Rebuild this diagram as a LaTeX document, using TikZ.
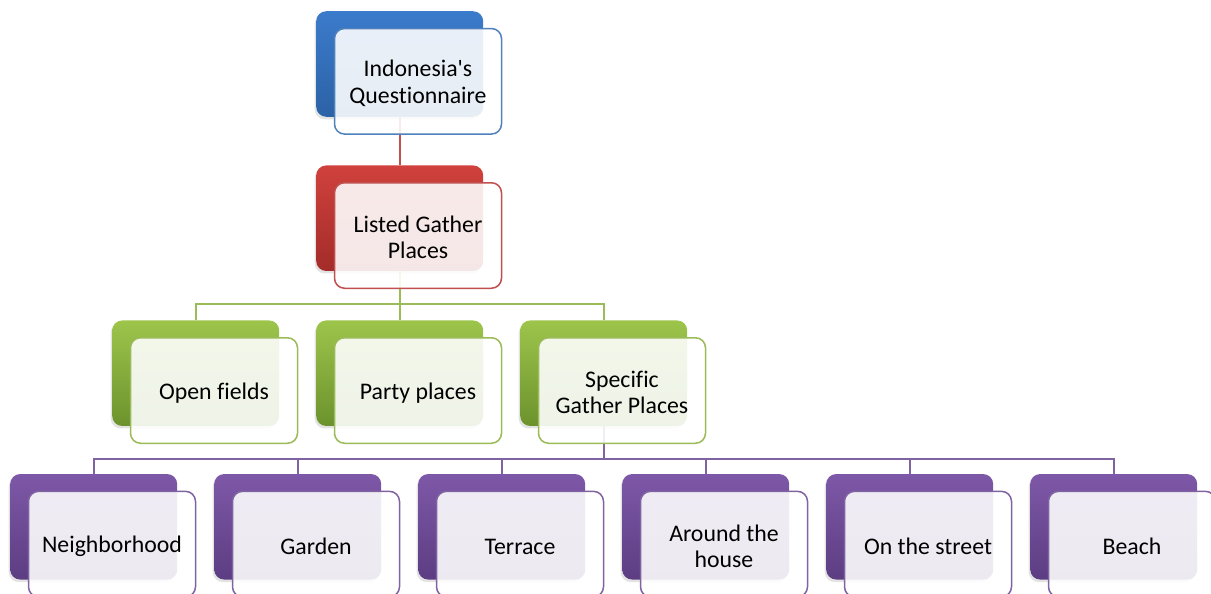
\documentclass[tikz,border=0pt]{standalone}
\usepackage{fontspec}
\setmainfont{Carlito}[Ligatures={NoCommon,TeXOff}]
\usetikzlibrary{calc,shadows}
\pgfdeclarelayer{bg}
\pgfsetlayers{bg,main}
\definecolor{blueTop}{HTML}{3B7BCB}
\definecolor{blueBot}{HTML}{2C62A6}
\definecolor{blueLine}{HTML}{4F81BD}
\definecolor{redTop}{HTML}{D0413D}
\definecolor{redBot}{HTML}{A32C29}
\definecolor{redLine}{HTML}{C0504D}
\definecolor{greenTop}{HTML}{9DC54B}
\definecolor{greenBot}{HTML}{6C922D}
\definecolor{greenLine}{HTML}{9BBB59}
\definecolor{purpleTop}{HTML}{7E58A8}
\definecolor{purpleBot}{HTML}{5C3D82}
\definecolor{purpleLine}{HTML}{8064A2}
\begin{document}
\begin{tikzpicture}[x=1pt,y=-1pt,
  backbox/.style={rectangle, rounded corners=10pt, minimum width=167pt,
    minimum height=105.5pt, inner sep=0pt, outer sep=0pt, draw=none,
    top color=#1Top, middle color=#1Top, bottom color=#1Bot,
    drop shadow={shadow xshift=-1.5pt, shadow yshift=-2.5pt, opacity=0.22}},
  frontbox/.style={rectangle, rounded corners=10pt, minimum width=167pt,
    minimum height=105.5pt, inner sep=0pt, outer sep=0pt, draw=#1Line,
    line width=1.5pt, fill=white, fill opacity=0.89},
  lbl/.style={align=center, text=black, inner sep=0pt,
    font=\fontsize{23.8}{26.4}\selectfont},
  conn/.style={draw=#1Line, line width=1.6pt}
]
\useasboundingbox (0,0) rectangle (1211,594);
% level 1
\node[backbox=blue] (b1) at (399.7,64) {};
\node[frontbox=blue] (f1) at ($(b1)+(18.3,17.3)$) {};
\node[lbl] (t1) at ($(f1)+(0,2)$) {Indonesia's\\Questionnaire};
% level 2
\node[backbox=red] (b2) at (399.7,218.2) {};
\node[frontbox=red] (f2) at ($(b2)+(18.3,17.3)$) {};
\node[lbl] (t2) at ($(f2)+(0,2)$) {Listed Gather\\Places};
% level 3
\node[backbox=green] (b3a) at (195.7,373.2) {};
\node[frontbox=green] (f3a) at ($(b3a)+(18.3,17.3)$) {};
\node[lbl] (t3a) at ($(f3a)+(0,2.5)$) {Open fields};
\node[backbox=green] (b3b) at (399.7,373.2) {};
\node[frontbox=green] (f3b) at ($(b3b)+(18.3,17.3)$) {};
\node[lbl] (t3b) at ($(f3b)+(0,2.5)$) {Party places};
\node[backbox=green] (b3c) at (603.7,373.2) {};
\node[frontbox=green] (f3c) at ($(b3c)+(18.3,17.3)$) {};
\node[lbl] (t3c) at ($(f3c)+(0,2)$) {Specific\\Gather Places};
% level 4
\node[backbox=purple] (b4a) at (93.7,526.8) {};
\node[frontbox=purple] (f4a) at ($(b4a)+(18.3,17.3)$) {};
\node[lbl] (t4a) at ($(f4a)+(0,2.5)$) {Neighborhood};
\node[backbox=purple] (b4b) at (297.7,526.8) {};
\node[frontbox=purple] (f4b) at ($(b4b)+(18.3,17.3)$) {};
\node[lbl] (t4b) at ($(f4b)+(0,2.5)$) {Garden};
\node[backbox=purple] (b4c) at (501.7,526.8) {};
\node[frontbox=purple] (f4c) at ($(b4c)+(18.3,17.3)$) {};
\node[lbl] (t4c) at ($(f4c)+(0,2.5)$) {Terrace};
\node[backbox=purple] (b4d) at (705.7,526.8) {};
\node[frontbox=purple] (f4d) at ($(b4d)+(18.3,17.3)$) {};
\node[lbl] (t4d) at ($(f4d)+(0,2)$) {Around the\\house};
\node[backbox=purple] (b4e) at (909.7,526.8) {};
\node[frontbox=purple] (f4e) at ($(b4e)+(18.3,17.3)$) {};
\node[lbl] (t4e) at ($(f4e)+(0,2.5)$) {On the street};
\node[backbox=purple] (b4f) at (1113.7,526.8) {};
\node[frontbox=purple] (f4f) at ($(b4f)+(18.3,17.3)$) {};
\node[lbl] (t4f) at ($(f4f)+(0,2.5)$) {Beach};
% connectors
\begin{pgfonlayer}{bg}
\draw[conn=red] (b1.south) -- (b2.north);
\foreach \n in {b3a,b3b,b3c}
  \draw[conn=green] (b2.south) |- ($(\n.north)+(0,-16.2)$) -- (\n.north);
\foreach \n in {b4a,b4b,b4c,b4d,b4e,b4f}
  \draw[conn=purple] (b3c.south) |- ($(\n.north)+(0,-15.3)$) -- (\n.north);
\end{pgfonlayer}
\end{tikzpicture}
\end{document}
